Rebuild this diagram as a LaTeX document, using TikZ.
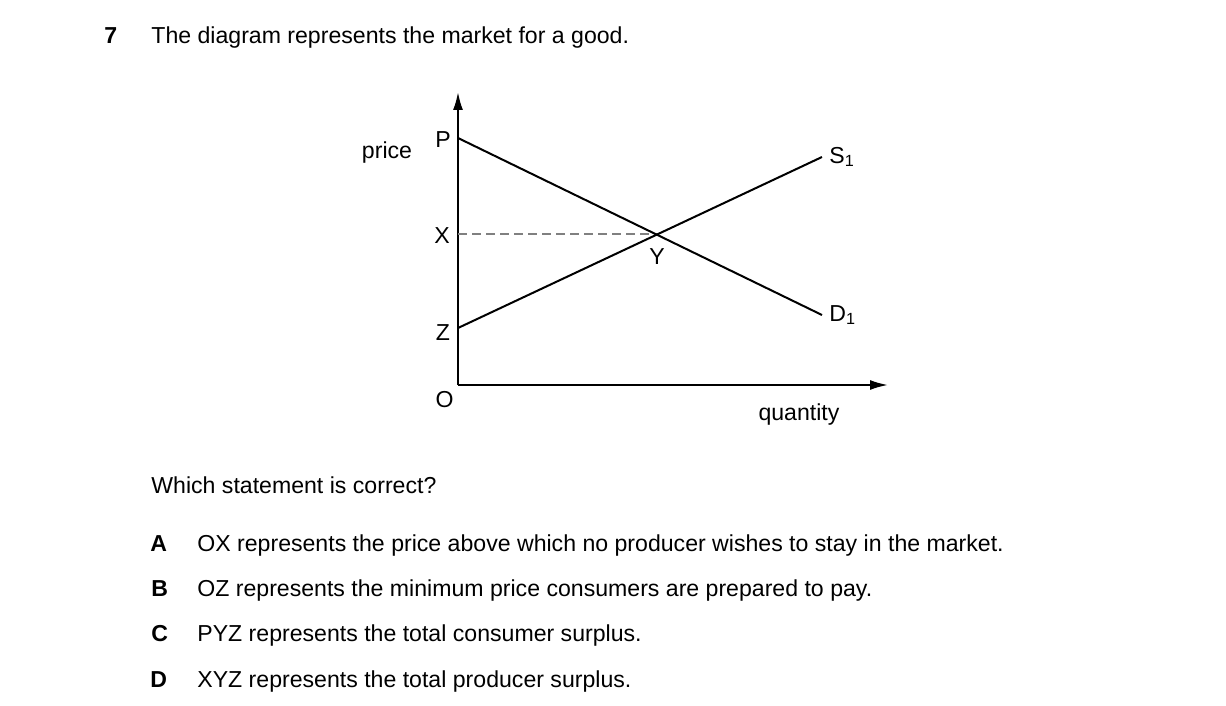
\documentclass[tikz,border=0pt]{standalone}
\usepackage{fontspec}
\setmainfont{Liberation Sans}
\usetikzlibrary{arrows.meta}
\usetikzlibrary{positioning}
\tikzset{txt/.style = {inner sep = 0, anchor = base west,
                       font = \fontsize{11.55}{14}\selectfont}}
\tikzset{key/.style = {txt, font = \fontsize{11.55}{14}\selectfont\bfseries}}
\tikzset{lbl/.style = {inner sep = 0, font = \fontsize{11.55}{14}\selectfont}}
\tikzset{axis/.style = {line width = 1pt,
                        -{Latex[length = 9pt, width = 5pt]}}}
\tikzset{curve/.style = {line width = 1pt}}
\tikzset{guide/.style = {gray, line width = 0.6pt, dash pattern = on 4.5pt off 2.5pt}}

\begin{document}
\begin{tikzpicture}[x = 0.5pt, y = -0.5pt]
      \useasboundingbox (0, 0) rectangle (1226, 706);

      % question
      \node [key] (qnum) at (104, 44) {7};
      \node [txt] (qtext) at (151, 44) {The diagram represents the market for a good.};

      % axes
      \coordinate (origin) at (458, 385);
      \coordinate (ytip) at (458, 92);
      \coordinate (xtip) at (888, 385);
      \draw [axis] (origin) -- (ytip);
      \draw [axis] (origin) -- (xtip);

      % curves
      \coordinate (pP) at (458, 138);
      \coordinate (pZ) at (458, 328);
      \coordinate (dEnd) at (822, 315);
      \coordinate (sEnd) at (822, 157);
      \coordinate (pX) at (458, 234);
      \coordinate (eqY) at (658, 234);
      \draw [guide] (pX) -- (eqY);
      \draw [curve] (pP) -- (dEnd);
      \draw [curve] (pZ) -- (sEnd);

      % labels
      \node [lbl, anchor = base] (price) at (387, 158) {price};
      \node [lbl] (labP) at (443, 140) {P};
      \node [lbl] (labX) at (442, 235.5) {X};
      \node [lbl] (labZ) at (443, 333) {Z};
      \node [lbl] (labO) at (444.5, 399.5) {O};
      \node [lbl, anchor = north] (labY) at (657, 248) {Y};
      \node [lbl, anchor = west, xshift = 3.5pt] (labS) at (sEnd) {S\textsubscript{1}};
      \node [lbl, anchor = west, xshift = 3.5pt] (labD) at (dEnd) {D\textsubscript{1}};
      \node [lbl, anchor = base] (qty) at (799, 420) {quantity};

      % statements
      \node [txt] (which) at (151, 493) {Which statement is correct?};
      \node [key] (keyA) at (150, 551) {A};
      \node [key] (keyB) at (151, 596) {B};
      \node [key] (keyC) at (151, 641) {C};
      \node [key] (keyD) at (150, 687) {D};
      \node [txt] (optA) at (197, 551) {OX represents the price above which no producer wishes to stay in the market.};
      \node [txt] (optB) at (197, 596) {OZ represents the minimum price consumers are prepared to pay.};
      \node [txt] (optC) at (197, 641) {PYZ represents the total consumer surplus.};
      \node [txt] (optD) at (197, 687) {XYZ represents the total producer surplus.};
\end{tikzpicture}
\end{document}
